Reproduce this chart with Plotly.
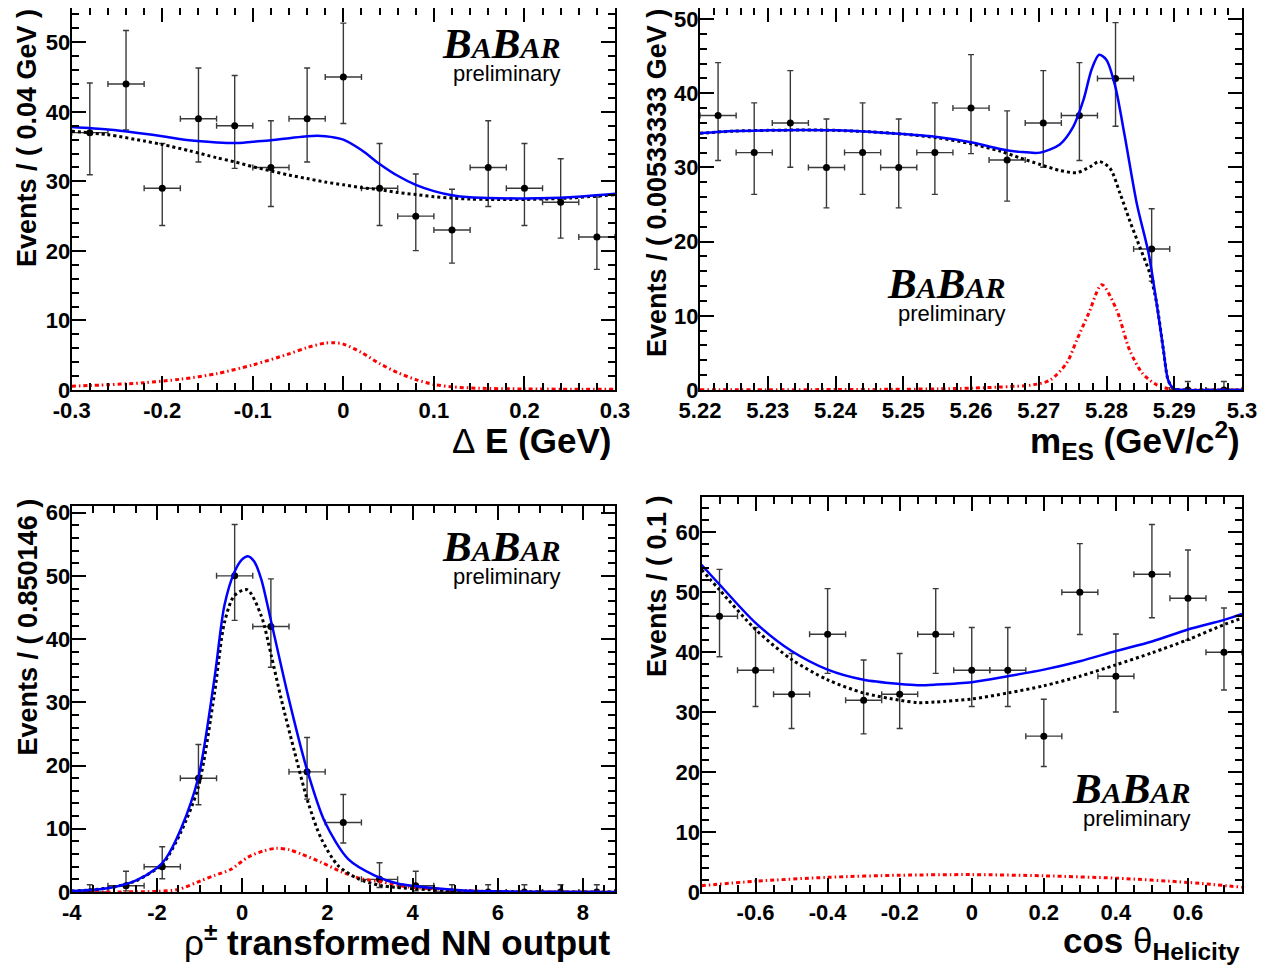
import numpy as np
import plotly.graph_objects as go

W, H = 1271, 966
OFF = 8  # page body margin of the browser

# ---------------- data: Delta E panel ----------------
de_centers = [-0.28, -0.24, -0.20, -0.16, -0.12, -0.08, -0.04, 0.0, 0.04, 0.08, 0.12, 0.16, 0.20, 0.24, 0.28]
de_counts = [37, 44, 29, 39, 38, 32, 39, 45, 29, 25, 23, 32, 29, 27, 22]
de_halfbin = 0.02
de_curve_x = [-0.3, -0.26, -0.22, -0.2, -0.17, -0.14, -0.12, -0.1, -0.08, -0.06, -0.04, -0.02, 0.0,
              0.02, 0.04, 0.06, 0.08, 0.1, 0.12, 0.14, 0.16, 0.2, 0.25, 0.3]
de_total = [37.8, 37.45, 36.85, 36.5, 35.9, 35.6, 35.5, 35.7, 35.9, 36.2, 36.5, 36.5, 36.0,
            34.5, 32.5, 30.8, 29.5, 28.6, 28.0, 27.7, 27.6, 27.55, 27.7, 28.2]
de_bkg = [37.2, 36.7, 35.8, 35.3, 34.4, 33.4, 32.8, 32.1, 31.5, 30.9, 30.4, 29.9, 29.5,
          29.1, 28.8, 28.4, 28.1, 27.8, 27.6, 27.45, 27.4, 27.4, 27.6, 28.1]
de_sig_x = [-0.3, -0.26, -0.22, -0.18, -0.14, -0.1, -0.06, -0.04, -0.02, -0.01, 0.0, 0.02, 0.04,
            0.06, 0.08, 0.1, 0.12, 0.15, 0.2, 0.3]
de_sig = [0.55, 0.75, 1.05, 1.55, 2.35, 3.6, 5.2, 6.1, 6.75, 6.8, 6.6, 5.4, 3.8,
          2.5, 1.5, 0.8, 0.45, 0.25, 0.15, 0.1]
de_tickvals = [-0.3, -0.2, -0.1, 0.0, 0.1, 0.2, 0.3]
de_ticktext = ["-0.3", "-0.2", "-0.1", "0", "0.1", "0.2", "0.3"]

# ---------------- data: mES panel ----------------
mes_centers = [5.222667, 5.228, 5.233333, 5.238667, 5.244, 5.249333, 5.254667, 5.26, 5.265333,
               5.270667, 5.276, 5.281333, 5.286667, 5.292, 5.297333]
mes_counts = [37, 32, 36, 30, 32, 30, 32, 38, 31, 36, 37, 42, 19, 0, 0]
mes_halfbin = 0.0026667
mes_total_x = [5.22, 5.225, 5.23, 5.235, 5.24, 5.245, 5.25, 5.255, 5.26, 5.2643, 5.2672, 5.2702,
               5.2731, 5.2751, 5.2766, 5.2778, 5.2789, 5.28, 5.2813, 5.2827, 5.2845, 5.2862,
               5.2874, 5.2884, 5.2891, 5.2899, 5.2919, 5.296, 5.3]
mes_total = [34.6, 34.9, 35.0, 35.05, 35.0, 34.8, 34.5, 34.1, 33.4, 32.5, 32.1, 32.0,
             33.1, 35.5, 39.1, 43.2, 45.2, 44.5, 40.9, 34.2, 25.0, 18.5,
             11.7, 5.4, 1.35, 0.2, 0.0, 0.0, 0.0]
mes_bkg_x = [5.22, 5.225, 5.23, 5.235, 5.24, 5.245, 5.25, 5.255, 5.26, 5.2643, 5.2672, 5.2702,
             5.2731, 5.2756, 5.2776, 5.2789, 5.2805, 5.282, 5.2834, 5.2849, 5.2864, 5.2874,
             5.2884, 5.2891, 5.2899, 5.2919, 5.296, 5.3]
mes_bkg = [34.6, 34.9, 35.0, 35.05, 35.0, 34.8, 34.5, 34.0, 33.2, 32.2, 31.3, 30.4,
           29.6, 29.3, 30.1, 30.8, 29.9, 26.5, 22.9, 19.3, 15.7, 11.7,
           5.4, 1.35, 0.2, 0.0, 0.0, 0.0]
mes_sig_x = [5.22, 5.23, 5.24, 5.25, 5.255, 5.26, 5.2643, 5.2692, 5.2717, 5.2741, 5.2756, 5.2774,
             5.2793, 5.2815, 5.2834, 5.2853, 5.2874, 5.2895, 5.292, 5.3]
mes_sig = [0.02, 0.03, 0.06, 0.1, 0.15, 0.25, 0.4, 0.7, 1.35, 3.6, 6.7, 10.4,
           14.2, 10.8, 5.4, 2.25, 0.7, 0.1, 0.0, 0.0]
mes_tickvals = [5.22, 5.23, 5.24, 5.25, 5.26, 5.27, 5.28, 5.29, 5.30]
mes_ticktext = ["5.22", "5.23", "5.24", "5.25", "5.26", "5.27", "5.28", "5.29", "5.3"]

# ---------------- data: NN output panel ----------------
nn_centers = [-3.575, -2.725, -1.875, -1.025, -0.175, 0.675, 1.525, 2.375, 3.225, 4.075,
              4.925, 5.775, 6.625, 7.475, 8.325]
nn_counts = [0, 1, 4, 18, 50, 42, 19, 11, 2, 1, 0, 0, 0, 0, 0]
nn_halfbin = 0.425073
nn_total_x = [-4.0, -3.5, -3.0, -2.5, -2.0, -1.8, -1.435, -1.028, -0.651, -0.416, -0.18, 0.0, 0.134,
              0.28, 0.448, 0.684, 1.076, 1.516, 1.94, 2.49, 3.116, 3.67, 4.53, 5.2, 6.0, 7.0, 8.752]
nn_total = [0.15, 0.35, 0.8, 1.8, 3.8, 5.2, 10.0, 18.1, 33.7, 45.3, 50.6, 52.6, 53.1,
            52.3, 49.5, 42.7, 31.1, 19.5, 11.1, 5.2, 2.6, 1.3, 0.6, 0.25, 0.1, 0.03, 0.0]
nn_bkg_x = [-4.0, -3.5, -3.0, -2.5, -2.0, -1.8, -1.435, -1.028, -0.651, -0.416, -0.18, 0.12,
            0.448, 0.684, 0.919, 1.233, 1.547, 1.86, 2.25, 2.72, 3.27, 4.06, 5.0, 6.0, 8.752]
nn_bkg = [0.15, 0.35, 0.8, 1.75, 3.7, 5.0, 9.5, 16.6, 31.3, 42.6, 46.9, 47.8,
          43.7, 37.4, 30.5, 22.1, 14.2, 8.4, 4.2, 2.1, 1.0, 0.5, 0.15, 0.05, 0.0]
nn_sig_x = [-4.0, -3.0, -2.0, -1.5, -0.966, -0.651, -0.26, 0.134, 0.5, 0.8, 1.1, 1.39, 1.86,
            2.33, 2.8, 3.27, 3.9, 4.53, 5.2, 6.0, 8.752]
nn_sig = [0.0, 0.01, 0.1, 0.4, 1.8, 2.6, 3.6, 5.5, 6.5, 6.9, 6.7, 6.0, 4.7,
          3.2, 2.1, 1.6, 0.8, 0.5, 0.2, 0.05, 0.0]
nn_tickvals = [-4, -2, 0, 2, 4, 6, 8]
nn_ticktext = ["-4", "-2", "0", "2", "4", "6", "8"]

# ---------------- data: helicity panel ----------------
hel_centers = [-0.7, -0.6, -0.5, -0.4, -0.3, -0.2, -0.1, 0.0, 0.1, 0.2, 0.3, 0.4, 0.5, 0.6, 0.7]
hel_counts = [46, 37, 33, 43, 32, 33, 43, 37, 37, 26, 50, 36, 53, 49, 40]
hel_halfbin = 0.05
hel_curve_x = [-0.75, -0.7, -0.6, -0.5, -0.4, -0.3, -0.2, -0.15, -0.1, 0.0, 0.1, 0.2, 0.3, 0.4,
               0.5, 0.6, 0.7, 0.75]
hel_total = [54.6, 51.3, 44.9, 40.2, 37.1, 35.4, 34.7, 34.5, 34.6, 35.0, 36.0, 37.1, 38.5, 40.2,
             41.8, 43.8, 45.4, 46.4]
hel_bkg = [53.8, 50.4, 43.8, 38.8, 35.4, 33.2, 32.0, 31.6, 31.7, 32.2, 33.2, 34.4, 36.0, 37.9,
           39.9, 42.1, 44.6, 45.7]
hel_sig_x = [-0.75, -0.6, -0.4, -0.2, 0.0, 0.2, 0.4, 0.6, 0.75]
hel_sig = [1.05, 1.8, 2.45, 2.8, 2.9, 2.7, 2.3, 1.6, 0.8]
hel_tickvals = [-0.6, -0.4, -0.2, 0.0, 0.2, 0.4, 0.6]
hel_ticktext = ["-0.6", "-0.4", "-0.2", "0", "0.2", "0.4", "0.6"]


def poisson_errors(counts):
    """68% Poisson interval (Wilson-Hilferty approximation, RooFit convention for n=0)."""
    lo, hi = [], []
    for n in counts:
        if n == 0:
            lo.append(0.0)
            hi.append(1.1479)
            continue
        l = n * (1 - 1 / (9 * n) - 1 / (3 * np.sqrt(n))) ** 3
        m = n + 1
        u = m * (1 - 1 / (9 * m) + 1 / (3 * np.sqrt(m))) ** 3
        lo.append(n - l)
        hi.append(u - n)
    return lo, hi


def fx(px):
    return min(max((px - OFF) / W, 0.0), 1.0)


def fy(py):
    return min(max(1 - (py - OFF) / H, 0.0), 1.0)


fig = go.Figure()

BOLD = dict(family="Liberation Sans, Arial, sans-serif", color="black", weight="bold")

# panel frames in screen pixels: (left, right, top, bottom) and pixels per y unit
frames = {
    1: (71.7, 615.0, 8.0, 390.0, 6.955),
    2: (700.0, 1242.0, 8.0, 390.0, 7.418),
    3: (71.7, 615.0, 506.0, 892.0, 6.323),
    4: (701.5, 1242.0, 497.0, 892.0, 5.994),
}

panels = [
    dict(n=1, centers=de_centers, counts=de_counts, hb=de_halfbin,
         tot=(de_curve_x, de_total), bkg=(de_curve_x, de_bkg), sig=(de_sig_x, de_sig),
         xr=[-0.3, 0.3], tv=de_tickvals, tt=de_ticktext, xmin=0.02, x0=0),
    dict(n=2, centers=mes_centers, counts=mes_counts, hb=mes_halfbin,
         tot=(mes_total_x, mes_total), bkg=(mes_bkg_x, mes_bkg), sig=(mes_sig_x, mes_sig),
         xr=[5.22, 5.30], tv=mes_tickvals, tt=mes_ticktext, xmin=0.002, x0=5.22),
    dict(n=3, centers=nn_centers, counts=nn_counts, hb=nn_halfbin,
         tot=(nn_total_x, nn_total), bkg=(nn_bkg_x, nn_bkg), sig=(nn_sig_x, nn_sig),
         xr=[-4.0, 8.752], tv=nn_tickvals, tt=nn_ticktext, xmin=0.5, x0=0),
    dict(n=4, centers=hel_centers, counts=hel_counts, hb=hel_halfbin,
         tot=(hel_curve_x, hel_total), bkg=(hel_curve_x, hel_bkg), sig=(hel_sig_x, hel_sig),
         xr=[-0.75, 0.75], tv=hel_tickvals, tt=hel_ticktext, xmin=0.05, x0=0),
]

for p in panels:
    n = p["n"]
    xa = "x" if n == 1 else f"x{n}"
    ya = "y" if n == 1 else f"y{n}"
    lo, hi = poisson_errors(p["counts"])
    fig.add_trace(go.Scatter(
        x=p["centers"], y=p["counts"], mode="markers", xaxis=xa, yaxis=ya,
        marker=dict(color="black", size=7),
        error_y=dict(type="data", array=hi, arrayminus=lo, symmetric=False,
                     color="#3a3a3a", thickness=1.4, width=3),
        error_x=dict(type="data", array=[p["hb"]] * len(p["centers"]),
                     color="#3a3a3a", thickness=1.4, width=3),
        showlegend=False, hoverinfo="skip"))
    fig.add_trace(go.Scatter(
        x=p["sig"][0], y=p["sig"][1], mode="lines", xaxis=xa, yaxis=ya,
        line=dict(color="#ff0000", width=3, dash="4px,3px,1.5px,3px", shape="spline", smoothing=0.8),
        showlegend=False, hoverinfo="skip"))
    fig.add_trace(go.Scatter(
        x=p["bkg"][0], y=p["bkg"][1], mode="lines", xaxis=xa, yaxis=ya,
        line=dict(color="black", width=3, dash="3px,3px", shape="spline", smoothing=0.8),
        showlegend=False, hoverinfo="skip"))
    fig.add_trace(go.Scatter(
        x=p["tot"][0], y=p["tot"][1], mode="lines", xaxis=xa, yaxis=ya,
        line=dict(color="#0000ff", width=2.5, shape="spline", smoothing=0.8),
        showlegend=False, hoverinfo="skip"))

    l, r, t, b, pxu = frames[n]
    yr = [0, (b - t) / pxu]
    common = dict(showline=True, linewidth=2, linecolor="black", mirror="ticks",
                  ticks="inside", ticklen=14, tickwidth=2, tickcolor="black",
                  showgrid=False, zeroline=False, automargin=False,
                  ticklabeloverflow="allow",
                  tickfont=dict(size=22, **BOLD))
    xkey = "xaxis" if n == 1 else f"xaxis{n}"
    ykey = "yaxis" if n == 1 else f"yaxis{n}"
    fig.update_layout(**{
        xkey: dict(common, domain=[fx(l), fx(r)], range=p["xr"], anchor=ya,
                   tickmode="array", tickvals=p["tv"], ticktext=p["tt"], ticklabelstandoff=0,
                   minor=dict(ticks="inside", ticklen=7, tickwidth=1.5, tickcolor="black",
                              dtick=p["xmin"], tick0=p["x0"], showgrid=False)),
        ykey: dict(common, domain=[fy(b), fy(t)], range=yr, anchor=xa,
                   tick0=0, dtick=10,
                   minor=dict(ticks="inside", ticklen=7, tickwidth=1.5, tickcolor="black",
                              dtick=2, tick0=0, showgrid=False)),
    })
    try:
        fig.layout[ykey].ticklabelstandoff = -5
    except ValueError:
        pass

annots = []


def ann(text, x, y, xanchor, yanchor, size, angle=0, serif=False, italic=False, bold=True):
    f = dict(size=size, color="black",
             family=("Liberation Serif, Times New Roman, serif" if serif
                     else "Liberation Sans, Arial, sans-serif"),
             weight="bold" if bold else "normal",
             style="italic" if italic else "normal")
    annots.append(dict(text=text, x=(x - OFF) / W, y=1 - (y - OFF) / H, xref="paper", yref="paper",
                       xanchor=xanchor, yanchor=yanchor, showarrow=False,
                       textangle=angle, font=f, borderpad=0))


# y-axis titles
ann("Events / ( 0.04 GeV )", 11, 8, "left", "top", 27, angle=-90)
ann("Events / ( 0.00533333 GeV )", 641, 8, "left", "top", 27, angle=-90)
ann("Events / ( 0.850146 )", 11, 498, "left", "top", 27, angle=-90)
ann("Events / ( 0.1 )", 641, 494, "left", "top", 27, angle=-90)

# x-axis titles
ann("<span style='font-weight:normal'>Δ</span> E (GeV)", 613, 461, "right", "bottom", 35)
ann("m<sub>ES</sub> (GeV/c<sup>2</sup>)", 1241, 466, "right", "bottom", 35)
ann("<span style='font-weight:normal'>ρ</span><sup>±</sup> transformed NN output", 611, 963, "right", "bottom", 35)
ann("cos <span style='font-weight:normal'>θ</span><sub>Helicity</sub>", 1241, 966, "right", "bottom", 35)

# BaBar logos
babar = ("B<span style='font-size:30px'>A</span>B<span style='font-size:30px'>A</span>"
         "<span style='font-size:30px'>R</span>")
for (xr, yb) in [(561, 58), (1006, 298), (561, 561), (1191, 803)]:
    ann(babar, xr, yb + 10, "right", "bottom", 43, serif=True, italic=True)
    ann("preliminary", xr + 1, yb + 24 + 5, "right", "bottom", 22, bold=False)

fig.update_layout(width=W, height=H, margin=dict(l=0, r=0, t=0, b=0, pad=0, autoexpand=False),
                  paper_bgcolor="white", plot_bgcolor="white",
                  annotations=annots, showlegend=False)

fig.write_html("out.html")
